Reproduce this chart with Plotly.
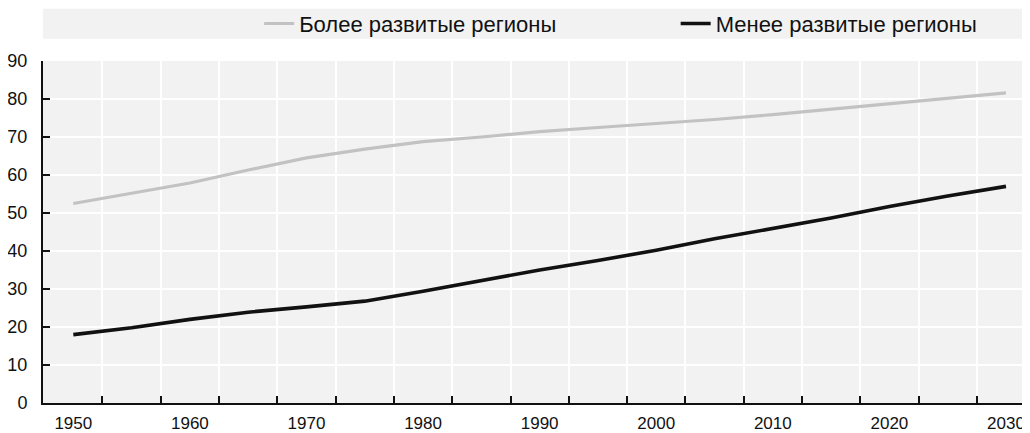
import plotly.graph_objects as go

years = [1950, 1955, 1960, 1965, 1970, 1975, 1980, 1985, 1990, 1995,
         2000, 2005, 2010, 2015, 2020, 2025, 2030]
more_developed = [52.5, 55.2, 57.9, 61.3, 64.5, 66.8, 68.8, 70.0, 71.4, 72.5,
                  73.5, 74.6, 75.9, 77.3, 78.7, 80.3, 81.6]
less_developed = [18.0, 19.8, 22.0, 23.9, 25.3, 26.8, 29.4, 32.2, 35.0, 37.5,
                  40.2, 43.2, 45.9, 48.7, 51.7, 54.5, 57.0]
series_names = ["Более развитые регионы", "Менее развитые регионы"]
x_labels = [1950, 1960, 1970, 1980, 1990, 2000, 2010, 2020, 2030]
x_boundaries = [1952.5 + 5 * i for i in range(16)]
y_ticks = [0, 10, 20, 30, 40, 50, 60, 70, 80, 90]

BG = "#f2f2f2"
FONT = "Liberation Sans, Arial, sans-serif"

fig = go.Figure()
fig.add_trace(go.Scatter(x=years, y=more_developed, mode="lines",
                         name=series_names[0], legend="legend",
                         line=dict(color="#c2c2c2", width=3.2)))
fig.add_trace(go.Scatter(x=years, y=less_developed, mode="lines",
                         name=series_names[1], legend="legend2",
                         line=dict(color="#111111", width=3.6)))

# legend band
fig.add_shape(type="rect", xref="paper", yref="paper",
              x0=0, x1=1, y0=1.065, y1=1.153,
              fillcolor=BG, line=dict(width=0), layer="below")

legend_common = dict(orientation="h", xanchor="left",
                     y=1.109, yanchor="middle",
                     bgcolor="rgba(0,0,0,0)",
                     font=dict(size=22, family=FONT, color="#111111"))

fig.update_layout(
    template="none",
    width=1022, height=425,
    margin=dict(l=35, r=0, t=53, b=30, autoexpand=False),
    paper_bgcolor="white",
    plot_bgcolor=BG,
    font=dict(family=FONT, size=18, color="#111111"),
    showlegend=True,
    legend=dict(x=0.219, **legend_common),
    legend2=dict(x=0.641, **legend_common),
    xaxis=dict(
        range=[1947.4, 2032.06],
        automargin=False,
        tickmode="array", tickvals=x_labels,
        ticktext=[str(v) for v in x_labels],
        ticks="", showgrid=False, zeroline=False,
        showline=True, linecolor="#111111", linewidth=2,
        ticklabelstandoff=4,
        tickfont=dict(size=17),
        minor=dict(tickmode="array", tickvals=x_boundaries,
                   ticks="inside", ticklen=7, tickwidth=1.5,
                   tickcolor="#111111",
                   showgrid=True, gridcolor="white", gridwidth=2),
    ),
    yaxis=dict(
        range=[0, 90],
        automargin=False,
        tickmode="array", tickvals=y_ticks,
        ticks="inside", ticklen=7, tickwidth=1.5, tickcolor="#111111",
        showgrid=True, gridcolor="white", gridwidth=2,
        zeroline=False,
        showline=True, linecolor="#111111", linewidth=2,
        ticklabelstandoff=10,
        tickfont=dict(size=18),
    ),
)

fig.write_html("out.html")
